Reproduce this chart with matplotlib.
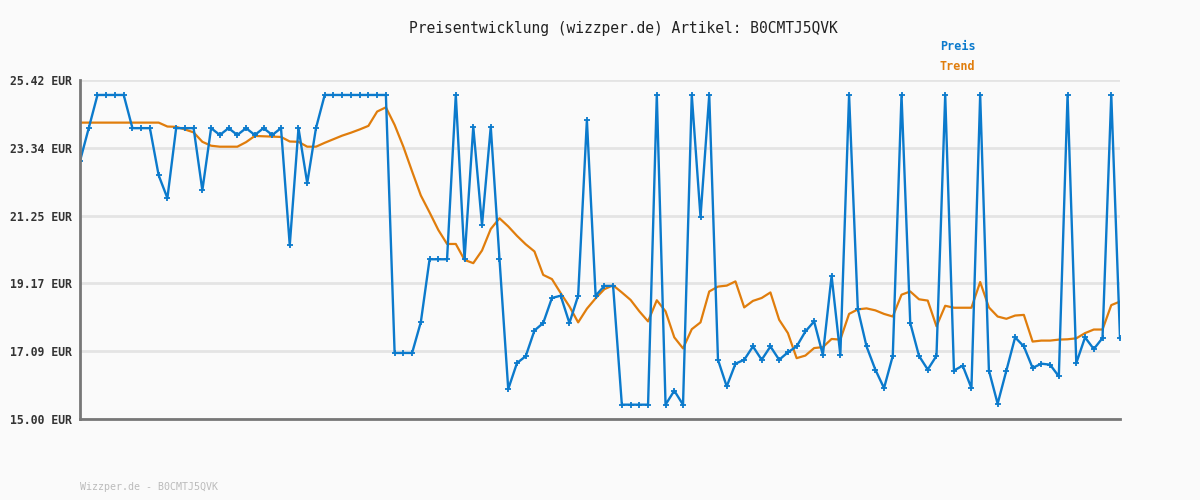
import matplotlib
matplotlib.use('Agg')
import matplotlib.pyplot as plt

# data (120 samples)
preis = [
	22.93, 23.94, 24.96, 24.96, 24.96, 24.96, 23.94, 23.94, 23.94, 22.49,
	21.79, 23.94, 23.94, 23.94, 22.03, 23.94, 23.73, 23.94, 23.73, 23.94,
	23.73, 23.94, 23.73, 23.94, 20.34, 23.94, 22.25, 23.94, 24.96, 24.96,
	24.96, 24.96, 24.96, 24.96, 24.96, 24.96, 17.03, 17.03, 17.03, 17.98,
	19.91, 19.91, 19.91, 24.96, 19.91, 23.98, 20.96, 23.98, 19.91, 15.92,
	16.72, 16.93, 17.72, 17.95, 18.72, 18.79, 17.95, 18.79, 24.19, 18.79,
	19.09, 19.09, 15.44, 15.44, 15.44, 15.44, 24.96, 15.44, 15.87, 15.44,
	24.96, 21.21, 24.96, 16.82, 16.00, 16.70, 16.82, 17.23, 16.82, 17.23,
	16.82, 17.05, 17.23, 17.69, 18.00, 16.97, 19.40, 16.97, 24.96, 18.38,
	17.23, 16.52, 15.95, 16.94, 24.96, 17.95, 16.94, 16.52, 16.94, 24.96,
	16.49, 16.64, 15.95, 24.96, 16.49, 15.47, 16.49, 17.51, 17.23, 16.57,
	16.70, 16.67, 16.31, 24.96, 16.72, 17.51, 17.15, 17.49, 24.96, 17.49,
]
trend = [
	24.11, 24.11, 24.11, 24.11, 24.11, 24.11, 24.11, 24.11, 24.11, 24.11,
	23.99, 23.98, 23.90, 23.81, 23.52, 23.40, 23.37, 23.37, 23.37, 23.51,
	23.70, 23.69, 23.68, 23.67, 23.53, 23.52, 23.37, 23.37, 23.49, 23.60,
	23.71, 23.80, 23.90, 24.01, 24.45, 24.58, 24.04, 23.37, 22.61, 21.87,
	21.35, 20.81, 20.38, 20.38, 19.89, 19.79, 20.18, 20.84, 21.17, 20.92,
	20.63, 20.37, 20.15, 19.43, 19.30, 18.87, 18.46, 17.97, 18.39, 18.71,
	18.99, 19.11, 18.89, 18.66, 18.31, 18.00, 18.65, 18.31, 17.51, 17.17,
	17.76, 17.97, 18.92, 19.07, 19.10, 19.23, 18.43, 18.63, 18.72, 18.89,
	18.05, 17.64, 16.87, 16.95, 17.18, 17.21, 17.46, 17.44, 18.23, 18.37,
	18.40, 18.34, 18.23, 18.15, 18.82, 18.92, 18.68, 18.64, 17.85, 18.48,
	18.42, 18.42, 18.42, 19.21, 18.43, 18.15, 18.08, 18.18, 18.20, 17.38,
	17.41, 17.41, 17.44, 17.45, 17.48, 17.64, 17.75, 17.75, 18.50, 18.61,
]
yTicks = [15.00, 17.09, 19.17, 21.25, 23.34, 25.42]
yTickLabels = ['15.00 EUR', '17.09 EUR', '19.17 EUR', '21.25 EUR', '23.34 EUR', '25.42 EUR']
artikel = 'B0CMTJ5QVK'

blue = '#0b7acc'
orange = '#e07d0c'
bg = '#fafafa'
mono = 'DejaVu Sans Mono'

fig = plt.figure(figsize=(12, 5), dpi=100, facecolor=bg)
ax = fig.add_axes([80 / 1200, 81 / 500, 1040 / 1200, 339 / 500], facecolor=bg)

x = list(range(len(preis)))
ax.plot(x, trend, '-', color=orange, lw=1.6, zorder=3)
ax.plot(x, preis, '-', color=blue, lw=1.7, marker='+', ms=4, mew=1.3, zorder=4)

ax.set_xlim(0, len(preis) - 1)
ax.set_ylim(yTicks[0], yTicks[-1])
ax.set_xticks([])
ax.set_yticks(yTicks)
ax.set_yticklabels(yTickLabels, fontfamily=mono, fontweight='bold', fontsize=8.3, color='#333333')
ax.tick_params(axis='y', length=0, pad=6)
ax.grid(axis='y', color='#e4e4e4', lw=2, zorder=0)
for s in ['top', 'right']:
	ax.spines[s].set_visible(False)
for s in ['left', 'bottom']:
	ax.spines[s].set_color('#777777')
	ax.spines[s].set_linewidth(2)
	ax.spines[s].set_zorder(5)

# title, legend, footer
fig.text(623 / 1200, 1 - 28 / 500, 'Preisentwicklung (wizzper.de) Artikel: ' + artikel,
	ha='center', va='center', fontfamily=mono, fontsize=10.5, color='#222222')
fig.text(940 / 1200, 1 - 47 / 500, 'Preis', ha='left', va='center',
	fontfamily=mono, fontweight='bold', fontsize=8.5, color=blue)
fig.text(940 / 1200, 1 - 67 / 500, 'Trend', ha='left', va='center',
	fontfamily=mono, fontweight='bold', fontsize=8.5, color=orange)
fig.text(80 / 1200, 1 - 487 / 500, 'Wizzper.de - ' + artikel, ha='left', va='center',
	fontfamily=mono, fontsize=7.2, color='#bbbbbb')

plt.savefig('out.png', dpi=100, facecolor=bg)
